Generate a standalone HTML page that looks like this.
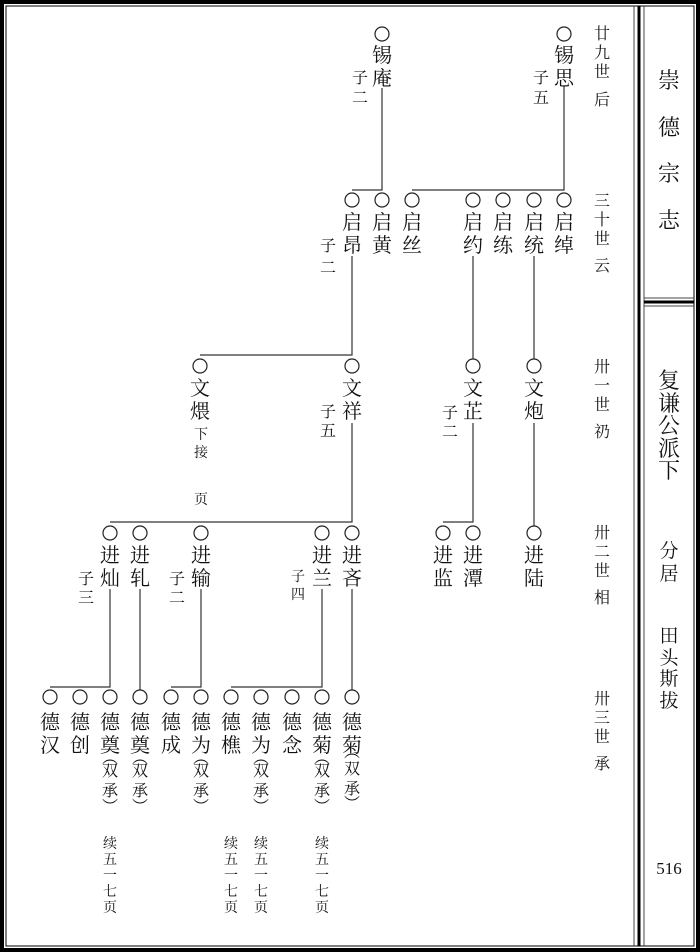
<!DOCTYPE html>
<html><head><meta charset="utf-8"><style>
html,body{margin:0;padding:0;background:#fff}
svg{display:block}
text{font-family:"Liberation Serif","Noto Serif CJK SC","Noto Sans CJK SC",serif;fill:#111;text-anchor:middle}
.n{font-size:20px}
.s{font-size:16px}
.t{font-size:14px}
.g{font-size:16px}
</style></head><body>
<svg width="700" height="952" viewBox="0 0 700 952" xmlns="http://www.w3.org/2000/svg">
<rect x="2" y="2" width="696" height="948" fill="none" stroke="#000" stroke-width="4"/>
<rect x="6" y="6" width="688" height="940" fill="none" stroke="#000" stroke-width="1"/>
<line x1="634" y1="6" x2="634" y2="946" stroke="#444" stroke-width="1"/>
<line x1="639" y1="6" x2="639" y2="946" stroke="#000" stroke-width="3"/>
<line x1="644" y1="6" x2="644" y2="946" stroke="#444" stroke-width="1"/>
<line x1="644" y1="298" x2="694" y2="298" stroke="#444" stroke-width="1"/>
<line x1="644" y1="302" x2="694" y2="302" stroke="#000" stroke-width="3"/>
<line x1="644" y1="306" x2="694" y2="306" stroke="#444" stroke-width="1"/>

<g stroke="#333" stroke-width="1.2" fill="none">
<!-- gen29->30 -->
<polyline points="382,88 382,190 352,190"/>
<polyline points="564,86 564,190 412,190"/>
<!-- gen30->31 -->
<polyline points="352,256 352,355 200,355"/>
<line x1="473" y1="256" x2="473" y2="359"/>
<line x1="534" y1="256" x2="534" y2="359"/>
<!-- gen31->32 -->
<polyline points="352,423 352,522 110,522"/>
<polyline points="473,423 473,522 443,522"/>
<line x1="534" y1="423" x2="534" y2="526"/>
<!-- gen32->33 -->
<polyline points="110,589 110,687 50,687"/>
<line x1="140" y1="589" x2="140" y2="691"/>
<polyline points="201,589 201,687 171,687"/>
<polyline points="322,589 322,687 231,687"/>
<line x1="352" y1="589" x2="352" y2="691"/>
</g>
<g stroke="#222" stroke-width="1.2" fill="#fff">
<circle cx="382" cy="34" r="7"/><circle cx="564" cy="34" r="7"/>
<circle cx="352" cy="200" r="7"/><circle cx="382" cy="200" r="7"/><circle cx="412" cy="200" r="7"/><circle cx="473" cy="200" r="7"/><circle cx="503" cy="200" r="7"/><circle cx="534" cy="200" r="7"/><circle cx="564" cy="200" r="7"/>
<circle cx="200" cy="366" r="7"/><circle cx="352" cy="366" r="7"/><circle cx="473" cy="366" r="7"/><circle cx="534" cy="366" r="7"/>
<circle cx="110" cy="533" r="7"/><circle cx="140" cy="533" r="7"/><circle cx="201" cy="533" r="7"/><circle cx="322" cy="533" r="7"/><circle cx="352" cy="533" r="7"/><circle cx="443" cy="533" r="7"/><circle cx="473" cy="533" r="7"/><circle cx="534" cy="533" r="7"/>
<circle cx="50" cy="697" r="7"/><circle cx="80" cy="697" r="7"/><circle cx="110" cy="697" r="7"/><circle cx="140" cy="697" r="7"/><circle cx="171" cy="697" r="7"/><circle cx="201" cy="697" r="7"/><circle cx="231" cy="697" r="7"/><circle cx="261" cy="697" r="7"/><circle cx="292" cy="697" r="7"/><circle cx="322" cy="697" r="7"/><circle cx="352" cy="697" r="7"/>
</g>

<!-- gen29 -->
<text class="n"><tspan x="382" y="62">锡</tspan><tspan x="382" y="85">庵</tspan></text>
<text class="s"><tspan x="360" y="83">子</tspan><tspan x="360" y="103">二</tspan></text>
<text class="n"><tspan x="564" y="62">锡</tspan><tspan x="564" y="85">思</tspan></text>
<text class="s"><tspan x="541" y="83">子</tspan><tspan x="541" y="103">五</tspan></text>
<!-- gen30 -->
<text class="n"><tspan x="352" y="229">启</tspan><tspan x="352" y="252">昂</tspan></text>
<text class="s"><tspan x="328" y="251">子</tspan><tspan x="328" y="273">二</tspan></text>
<text class="n"><tspan x="382" y="229">启</tspan><tspan x="382" y="252">黄</tspan></text>
<text class="n"><tspan x="412" y="229">启</tspan><tspan x="412" y="252">丝</tspan></text>
<text class="n"><tspan x="473" y="229">启</tspan><tspan x="473" y="252">约</tspan></text>
<text class="n"><tspan x="503" y="229">启</tspan><tspan x="503" y="252">练</tspan></text>
<text class="n"><tspan x="534" y="229">启</tspan><tspan x="534" y="252">统</tspan></text>
<text class="n"><tspan x="564" y="229">启</tspan><tspan x="564" y="252">绰</tspan></text>
<!-- gen31 -->
<text class="n"><tspan x="200" y="395">文</tspan><tspan x="200" y="418">煨</tspan></text>
<text class="t"><tspan x="201" y="439">下</tspan><tspan x="201" y="457">接</tspan><tspan x="201" y="504">页</tspan></text>
<text class="n"><tspan x="352" y="395">文</tspan><tspan x="352" y="418">祥</tspan></text>
<text class="s"><tspan x="328" y="417">子</tspan><tspan x="328" y="436">五</tspan></text>
<text class="n"><tspan x="473" y="395">文</tspan><tspan x="473" y="418">芷</tspan></text>
<text class="s"><tspan x="450" y="418">子</tspan><tspan x="450" y="437">二</tspan></text>
<text class="n"><tspan x="534" y="395">文</tspan><tspan x="534" y="418">炮</tspan></text>
<!-- gen32 -->
<text class="n"><tspan x="110" y="562">进</tspan><tspan x="110" y="585">灿</tspan></text>
<text class="s"><tspan x="86" y="584">子</tspan><tspan x="86" y="603">三</tspan></text>
<text class="n"><tspan x="140" y="562">进</tspan><tspan x="140" y="585">轧</tspan></text>
<text class="n"><tspan x="201" y="562">进</tspan><tspan x="201" y="585">输</tspan></text>
<text class="s"><tspan x="177" y="584">子</tspan><tspan x="177" y="603">二</tspan></text>
<text class="n"><tspan x="322" y="562">进</tspan><tspan x="322" y="585">兰</tspan></text>
<text class="t"><tspan x="298" y="581">子</tspan><tspan x="298" y="599">四</tspan></text>
<text class="n"><tspan x="352" y="562">进</tspan><tspan x="352" y="585">吝</tspan></text>
<text class="n"><tspan x="443" y="562">进</tspan><tspan x="443" y="585">监</tspan></text>
<text class="n"><tspan x="473" y="562">进</tspan><tspan x="473" y="585">潭</tspan></text>
<text class="n"><tspan x="534" y="562">进</tspan><tspan x="534" y="585">陆</tspan></text>
<!-- gen33 -->
<text class="n"><tspan x="50" y="729">德</tspan><tspan x="50" y="752">汉</tspan></text>
<text class="n"><tspan x="80" y="729">德</tspan><tspan x="80" y="752">创</tspan></text>
<text class="n"><tspan x="110" y="729">德</tspan><tspan x="110" y="752">奠</tspan></text>
<text class="n"><tspan x="140" y="729">德</tspan><tspan x="140" y="752">奠</tspan></text>
<text class="n"><tspan x="171" y="729">德</tspan><tspan x="171" y="752">成</tspan></text>
<text class="n"><tspan x="201" y="729">德</tspan><tspan x="201" y="752">为</tspan></text>
<text class="n"><tspan x="231" y="729">德</tspan><tspan x="231" y="752">樵</tspan></text>
<text class="n"><tspan x="261" y="729">德</tspan><tspan x="261" y="752">为</tspan></text>
<text class="n"><tspan x="292" y="729">德</tspan><tspan x="292" y="752">念</tspan></text>
<text class="n"><tspan x="322" y="729">德</tspan><tspan x="322" y="752">菊</tspan></text>
<text class="n"><tspan x="352" y="729">德</tspan><tspan x="352" y="752">菊</tspan></text>
<g class="s">
<text class="s"><tspan x="110" y="763">︵</tspan><tspan x="110" y="776">双</tspan><tspan x="110" y="796">承</tspan><tspan x="110" y="812">︶</tspan></text>
<text class="s"><tspan x="140" y="763">︵</tspan><tspan x="140" y="776">双</tspan><tspan x="140" y="796">承</tspan><tspan x="140" y="812">︶</tspan></text>
<text class="s"><tspan x="201" y="763">︵</tspan><tspan x="201" y="776">双</tspan><tspan x="201" y="796">承</tspan><tspan x="201" y="812">︶</tspan></text>
<text class="s"><tspan x="261" y="763">︵</tspan><tspan x="261" y="776">双</tspan><tspan x="261" y="796">承</tspan><tspan x="261" y="812">︶</tspan></text>
<text class="s"><tspan x="322" y="763">︵</tspan><tspan x="322" y="776">双</tspan><tspan x="322" y="796">承</tspan><tspan x="322" y="812">︶</tspan></text>
<text class="s"><tspan x="352" y="757">︵</tspan><tspan x="352" y="774">双</tspan><tspan x="352" y="794">承</tspan><tspan x="352" y="809">︶</tspan></text>
</g>
<text class="t"><tspan x="110" y="848">续</tspan><tspan x="110" y="864">五</tspan><tspan x="110" y="880">一</tspan><tspan x="110" y="896">七</tspan><tspan x="110" y="912">页</tspan></text>
<text class="t"><tspan x="231" y="848">续</tspan><tspan x="231" y="864">五</tspan><tspan x="231" y="880">一</tspan><tspan x="231" y="896">七</tspan><tspan x="231" y="912">页</tspan></text>
<text class="t"><tspan x="261" y="848">续</tspan><tspan x="261" y="864">五</tspan><tspan x="261" y="880">一</tspan><tspan x="261" y="896">七</tspan><tspan x="261" y="912">页</tspan></text>
<text class="t"><tspan x="322" y="848">续</tspan><tspan x="322" y="864">五</tspan><tspan x="322" y="880">一</tspan><tspan x="322" y="896">七</tspan><tspan x="322" y="912">页</tspan></text>

<!-- generation labels -->
<text class="g"><tspan x="602" y="39">廿</tspan><tspan x="602" y="58">九</tspan><tspan x="602" y="77">世</tspan><tspan x="602" y="105">后</tspan></text>
<text class="g"><tspan x="602" y="206">三</tspan><tspan x="602" y="225">十</tspan><tspan x="602" y="244">世</tspan><tspan x="602" y="271">云</tspan></text>
<text class="g"><tspan x="602" y="372">卅</tspan><tspan x="602" y="391">一</tspan><tspan x="602" y="410">世</tspan><tspan x="602" y="437">礽</tspan></text>
<text class="g"><tspan x="602" y="538">卅</tspan><tspan x="602" y="557">二</tspan><tspan x="602" y="576">世</tspan><tspan x="602" y="603">相</tspan></text>
<text class="g"><tspan x="602" y="704">卅</tspan><tspan x="602" y="723">三</tspan><tspan x="602" y="742">世</tspan><tspan x="602" y="769">承</tspan></text>

<!-- right panel -->
<text style="font-size:22px"><tspan x="669" y="88">崇</tspan><tspan x="669" y="135">德</tspan><tspan x="669" y="181">宗</tspan><tspan x="669" y="228">志</tspan></text>
<text style="font-size:22px"><tspan x="669" y="388">复</tspan><tspan x="669" y="411">谦</tspan><tspan x="669" y="433">公</tspan><tspan x="669" y="456">派</tspan><tspan x="669" y="478">下</tspan></text>
<text style="font-size:19px"><tspan x="669" y="557">分</tspan><tspan x="669" y="580">居</tspan></text>
<text style="font-size:19px"><tspan x="669" y="642">田</tspan><tspan x="669" y="664">头</tspan><tspan x="669" y="685">斯</tspan><tspan x="669" y="707">拔</tspan></text>
<text x="669" y="874" style="font-size:17px">516</text>
</svg>
</body></html>
